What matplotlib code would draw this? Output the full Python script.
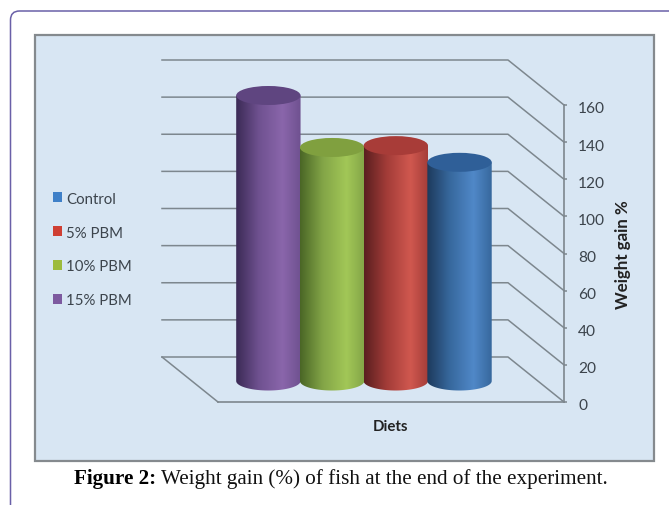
import numpy as np
import matplotlib
matplotlib.use('Agg')
import matplotlib.pyplot as plt
from matplotlib.colors import LinearSegmentedColormap
from matplotlib.patches import FancyBboxPatch, Rectangle, Polygon, Ellipse, Patch
from matplotlib.transforms import IdentityTransform, Affine2D

# data
diets = ['15% PBM', '10% PBM', '5% PBM', 'Control']
weight_gain = [153, 125, 126, 117]
y_ticks = [0, 20, 40, 60, 80, 100, 120, 140, 160]
legend_order = ['Control', '5% PBM', '10% PBM', '15% PBM']

# colours: dark edge, body, light, top ellipse, legend
styles = {
	'15% PBM': ('#3b2a55', '#6f5190', '#8a66ab', '#5f4580', '#7d5a9f'),
	'10% PBM': ('#4a6626', '#83a547', '#a2c757', '#80a03f', '#9dbb3c'),
	'5% PBM': ('#5a1f20', '#a33c38', '#d0584f', '#a83c38', '#cf3f33'),
	'Control': ('#1d3a5c', '#37689d', '#5088c8', '#2f5f98', '#3f80c8'),
}

W, H = 669, 506
fig = plt.figure(figsize=(W / 100, H / 100), dpi=100, facecolor='white')
plt.rcParams['font.family'] = ['Lato', 'DejaVu Sans']
text_col = '#3c444c'
grid_col = '#7d878e'

# outer rounded frame and chart panel, in pixels
fig.add_artist(FancyBboxPatch((10.5, -60), 800, H - 12 + 60, boxstyle='round,pad=0,rounding_size=9',
	fc='white', ec='#6a60a8', lw=1.1, transform=IdentityTransform(), zorder=-2))
fig.add_artist(Rectangle((34.5, H - 462), 619.5, 426, fc='#d8e6f3', ec='#858a8e', lw=1.6,
	transform=IdentityTransform(), zorder=-1))

# front plane of the 3d box
ax = fig.add_axes([218 / W, (H - 403) / H, 346 / W, 297 / H])
ax.patch.set_visible(False)
xmin, xmax, ymin, ymax = -1.23, 4.2, 0, 160
px_x = 346 / (xmax - xmin)
px_y = 297 / (ymax - ymin)
depth_x = 56 / px_x
depth_y = 45 / px_y

# wall gridlines with their slanted side parts
for v in y_ticks:
	ax.plot([xmin - depth_x, xmax - depth_x, xmax], [v + depth_y, v + depth_y, v],
		color=grid_col, lw=1.1, clip_on=False, zorder=1)
ax.plot([xmin - depth_x, xmin], [depth_y, 0], color=grid_col, lw=1.1, clip_on=False, zorder=1)

# cylinders
half_w = 0.505
half_h = 9.5 / px_y
theta = np.linspace(0, np.pi, 60)
for i, (name, val) in enumerate(zip(diets, weight_gain)):
	dark, body, light, top, _ = styles[name]
	cx = i - depth_x / 2
	y0 = depth_y / 2 - 1.5 / px_y
	y1 = val + depth_y / 2
	upper = np.c_[cx - half_w * np.cos(theta), np.full(theta.size, y1)]
	lower = np.c_[cx + half_w * np.cos(theta), y0 - half_h * np.sin(theta)]
	clip = Polygon(np.r_[upper, lower], closed=True, transform=ax.transData)
	cmap = LinearSegmentedColormap.from_list(name, [(0, dark), (0.35, body), (0.72, light), (1, body)])
	im = ax.imshow(np.linspace(0, 1, 128).reshape(1, -1), cmap=cmap, aspect='auto',
		extent=(cx - half_w, cx + half_w, y0 - half_h, y1), zorder=2 + i, interpolation='bilinear')
	im.set_clip_path(clip)
	im.set_clip_box(fig.bbox)
	ax.add_patch(Ellipse((cx, y1), 2 * half_w, 2 * half_h, fc=top, ec='none', zorder=2 + i, clip_on=False))

ax.set_xlim(xmin, xmax)
ax.set_ylim(ymin, ymax)

# axes
for side in ['top', 'left']:
	ax.spines[side].set_visible(False)
for side in ['right', 'bottom']:
	ax.spines[side].set_color(grid_col)
	ax.spines[side].set_linewidth(1.2)
ax.set_xticks([])
ax.yaxis.tick_right()
ax.set_yticks(y_ticks)
ax.tick_params(axis='y', direction='out', length=2.2, width=1.1, color=grid_col, pad=8,
	labelsize=11.2, labelcolor=text_col)
for lbl in ax.get_yticklabels():
	lbl.set_transform(lbl.get_transform() + Affine2D().translate(0, -2))
ax.yaxis.set_label_position('right')
ax.set_ylabel('Weight gain %', rotation=90, fontsize=12.2, fontweight='bold', color='#222222', va='center')
ax.yaxis.set_label_coords((623 - 218) / 346, 0.5)
ax.set_xlabel('Diets', fontsize=10.8, fontweight='bold', color='#222222', labelpad=12)

# legend
handles = [Patch(fc=styles[n][4], label=n) for n in legend_order]
fig.legend(handles=handles, loc='center left', bbox_to_anchor=(53 / W, (H - 250.5) / H), frameon=False,
	fontsize=10.8, labelcolor=text_col, handlelength=0.62, handleheight=0.62, handletextpad=0.28,
	labelspacing=1.33, borderpad=0, borderaxespad=0)

# caption
cap1 = fig.text(74 / W, (H - 484) / H, 'Figure 2:', family='Liberation Serif', fontweight='bold',
	fontsize=15.25, color='black')
fig.canvas.draw()
bb = cap1.get_window_extent()
fig.text((bb.x1 + 5) / W, (H - 484) / H, 'Weight gain (%) of fish at the end of the experiment.',
	family='Liberation Serif', fontsize=15.25, color='#111111')

plt.savefig('out.png', dpi=100)
